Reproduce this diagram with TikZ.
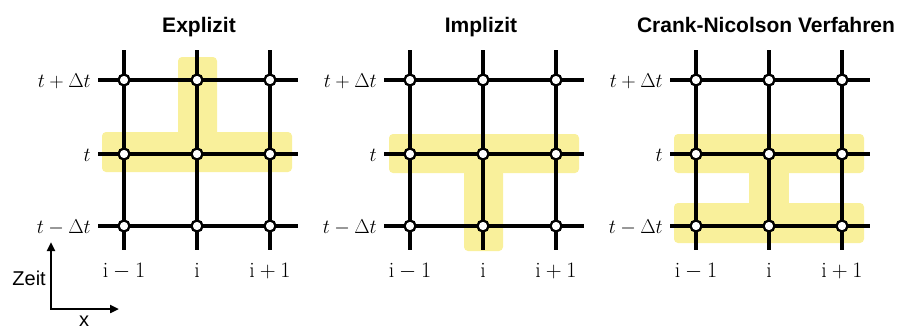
\RequirePackage{fix-cm}
\documentclass[tikz,border=0pt]{standalone}
\usepackage{fontspec}
\setsansfont{Liberation Sans}
\usetikzlibrary{arrows.meta}
\definecolor{hl}{RGB}{249,240,155}
\tikzset{
  gridline/.style={line width=3.3pt},
  gpt/.style={circle, draw, fill=white, line width=2.3pt, inner sep=0pt, minimum size=11pt},
  band/.style={fill=hl, rounded corners=4pt},
  paneltitle/.style={font=\sffamily\bfseries\fontsize{21}{24}\selectfont, anchor=base},
  rowlab/.style={anchor=base east, font=\fontsize{20}{24}\selectfont, inner sep=0pt},
  collab/.style={anchor=base, font=\fontsize{22}{26}\selectfont, inner sep=0pt},
  axis/.style={line width=2.3pt, line join=miter},
  axlab/.style={font=\sffamily\fontsize{20}{24}\selectfont, inner sep=0pt},
}
\newcommand{\mygrid}[1]{%
  \foreach \c [count=\k] in {0,73,146} {
    \coordinate (#1t\k) at (\c,50);
    \coordinate (#1b\k) at (\c,250);
    \draw[gridline] (#1t\k) -- (#1b\k);
  }
  \foreach \r [count=\k] in {80,154,226} {
    \coordinate (#1l\k) at (-26,\r);
    \coordinate (#1r\k) at (174,\r);
    \draw[gridline] (#1l\k) -- (#1r\k);
  }
  \foreach \c [count=\k] in {0,73,146} {
    \foreach \r [count=\m] in {80,154,226} {
      \node[gpt] (#1p\k\m) at (\c,\r) {};
    }
  }
  \node[rowlab] (#1ra) at (-33,87) {$t+\Delta t$};
  \node[rowlab] (#1rb) at (-33,161) {$t$};
  \node[rowlab] (#1rc) at (-33,233) {$t-\Delta t$};
  \node[collab] (#1ca) at (0,277) {$\mathrm{i}-1$};
  \node[collab] (#1cb) at (73,277) {$\mathrm{i}$};
  \node[collab] (#1cc) at (146,277) {$\mathrm{i}+1$};
}
\begin{document}
\begin{tikzpicture}[x=1pt,y=-1pt]
\useasboundingbox (0,0) rectangle (900,330);

% Panel 1: Explizit
\begin{scope}[shift={(124,0)}]
  \fill[band] (54,57) rectangle (93,160);
  \fill[band] (-22,132) rectangle (168,172);
  \mygrid{a}
  \node[paneltitle] (ta) at (75,32) {Explizit};
\end{scope}

% Panel 2: Implizit
\begin{scope}[shift={(410,0)}]
  \fill[band] (54,150) rectangle (93,251);
  \fill[band] (-21,134) rectangle (169,173);
  \mygrid{b}
  \node[paneltitle] (tb) at (71,32) {Implizit};
\end{scope}

% Panel 3: Crank-Nicolson
\begin{scope}[shift={(696,0)}]
  \fill[band] (-22,134) rectangle (168,173);
  \fill[band] (-22,203) rectangle (168,243);
  \fill[hl] (53,165) rectangle (93,210);
  \mygrid{c}
  \node[paneltitle] (tc) at (70,32) {Crank-Nicolson Verfahren};
\end{scope}

% Axes
\coordinate (axo) at (51,309);
\coordinate (axu) at (51,242);
\coordinate (axr) at (119,309);
\draw[axis, {Triangle[length=9pt,width=8pt]}-{Triangle[length=9pt,width=8pt]}] (axu) -- (axo) -- (axr);
\node[axlab, anchor=base east] (zeit) at (46,285) {Zeit};
\node[axlab, anchor=base] (xlab) at (84,326) {x};
\end{tikzpicture}
\end{document}
